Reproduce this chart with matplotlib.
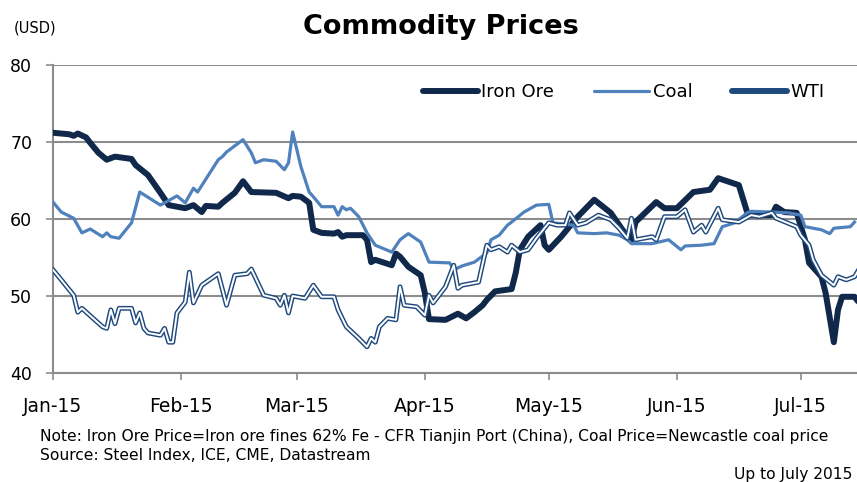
import numpy as np
import matplotlib
matplotlib.use("Agg")
import matplotlib.pyplot as plt
from matplotlib.lines import Line2D

# day offsets from 1 Jan 2015 and prices (USD)
ironDays = [0, 4, 5, 6, 8, 9, 11, 13, 15, 19, 20, 23, 26, 28, 32, 34, 36, 37, 40, 41,
            44, 46, 48, 54, 57, 58, 60, 62, 63, 65, 68, 69, 70, 71, 75, 76, 77, 78, 82, 83,
            84, 86, 89, 90, 91, 95, 98, 100, 102, 104, 105, 107, 111, 112, 113, 115, 118, 119, 120, 123,
            127, 131, 135, 139, 140, 141, 146, 148, 151, 155, 159, 161, 166, 168, 169, 174, 175, 177, 180, 182,
            183, 186, 187, 189, 190, 191, 194, 195]
ironOre = [71.2, 71.0, 70.8, 71.1, 70.6, 69.9, 68.6, 67.7, 68.1, 67.8, 67.0, 65.7, 63.4, 61.8, 61.4, 61.8, 60.9, 61.7, 61.6, 62.1,
           63.4, 64.9, 63.5, 63.4, 62.7, 63.0, 62.9, 62.1, 58.6, 58.2, 58.1, 58.3, 57.7, 57.9, 57.9, 57.3, 54.4, 54.7, 54.0, 55.5,
           55.1, 53.8, 52.7, 50.4, 47.0, 46.9, 47.7, 47.1, 47.9, 48.8, 49.5, 50.6, 50.9, 53.0, 56.0, 57.7, 59.2, 56.6, 56.0, 57.7,
           60.3, 62.5, 60.8, 57.7, 57.3, 59.6, 62.2, 61.4, 61.4, 63.5, 63.8, 65.3, 64.4, 60.9, 60.5, 60.5, 61.6, 60.9, 60.8, 57.3,
           54.3, 52.5, 50.4, 44.0, 48.2, 49.9, 49.9, 49.2]

coalDays = [0, 2, 5, 7, 9, 12, 13, 14, 16, 19, 21, 26, 30, 32, 34, 35, 40, 41, 42, 46,
            48, 49, 51, 54, 56, 57, 58, 60, 62, 63, 65, 68, 69, 70, 71, 72, 74, 76, 78, 82,
            84, 86, 89, 91, 96, 97, 99, 102, 105, 106, 108, 110, 111, 114, 117, 120, 121, 126, 127, 131,
            134, 137, 139, 140, 145, 149, 152, 153, 157, 160, 162, 165, 168, 169, 174, 178, 181, 182, 186, 188,
            189, 193, 194]
coal = [62.2, 60.9, 60.1, 58.2, 58.7, 57.7, 58.2, 57.7, 57.5, 59.5, 63.5, 61.8, 63.0, 62.1, 64.0, 63.5, 67.7, 68.1, 68.7, 70.3,
        68.6, 67.3, 67.7, 67.5, 66.4, 67.3, 71.3, 66.8, 63.5, 62.9, 61.6, 61.6, 60.5, 61.6, 61.2, 61.4, 60.3, 58.2, 56.6, 55.7,
        57.3, 58.1, 57.0, 54.4, 54.3, 53.4, 53.9, 54.4, 55.6, 57.3, 57.9, 59.2, 59.6, 60.9, 61.8, 61.9, 59.5, 59.2, 58.2, 58.1,
        58.2, 57.9, 57.3, 56.8, 56.8, 57.3, 56.0, 56.5, 56.6, 56.8, 59.0, 59.5, 60.8, 61.0, 60.9, 60.8, 60.5, 59.0, 58.6, 58.1,
        58.8, 59.0, 59.6]

wtiDays = [0, 2, 5, 6, 7, 12, 13, 14, 15, 16, 19, 20, 21, 22, 23, 26, 27, 28, 29, 30,
           32, 33, 34, 36, 40, 42, 44, 47, 48, 51, 54, 55, 56, 57, 58, 61, 63, 65, 68, 69,
           71, 74, 76, 77, 78, 79, 81, 83, 84, 85, 88, 90, 91, 92, 95, 97, 98, 99, 103, 105,
           106, 108, 110, 111, 113, 115, 117, 120, 122, 124, 125, 127, 129, 132, 135, 137, 139, 140, 141, 143,
           145, 146, 148, 151, 153, 155, 157, 158, 161, 162, 166, 169, 171, 174, 175, 180, 181, 183, 184, 186,
           189, 190, 192, 194, 195]
wti = [53.4, 52.1, 50.1, 47.9, 48.4, 46.0, 45.8, 48.2, 46.4, 48.4, 48.4, 46.5, 47.8, 45.8, 45.2, 44.9, 45.8, 44.0, 44.0, 47.8,
       49.2, 53.1, 49.1, 51.4, 52.9, 48.8, 52.7, 52.9, 53.5, 50.1, 49.7, 48.8, 50.1, 47.8, 50.0, 49.7, 51.4, 49.9, 49.9, 48.2,
       46.0, 44.5, 43.4, 44.5, 44.0, 46.0, 47.1, 46.9, 51.2, 48.8, 48.6, 47.5, 50.1, 49.1, 51.2, 54.0, 51.0, 51.4, 51.8, 56.6,
       56.0, 56.4, 55.7, 56.6, 55.7, 56.0, 57.5, 59.5, 59.2, 59.2, 60.8, 59.2, 59.5, 60.5, 59.9, 58.8, 57.5, 60.1, 57.3, 57.5,
       57.7, 57.3, 60.3, 60.3, 61.2, 58.3, 59.2, 58.3, 61.4, 59.9, 59.6, 60.5, 60.3, 60.8, 60.1, 59.0, 57.9, 56.6, 54.7, 52.7,
       51.4, 52.5, 52.1, 52.5, 53.4]

monthDays = [0, 31, 59, 90, 120, 151, 181]
monthLabels = ["Jan-15", "Feb-15", "Mar-15", "Apr-15", "May-15", "Jun-15", "Jul-15"]

ironColor = "#10284a"
coalColor = "#4f81bd"
wtiColor = "#1f497d"
gridColor = "#8c8c8c"

fig = plt.figure(figsize=(8.57, 4.82), dpi=100)
ax = fig.add_axes([53 / 857, 1 - 373 / 482, 804 / 857, 308 / 482])

ax.plot(ironDays, ironOre, color=ironColor, lw=4.3, solid_joinstyle="round", solid_capstyle="round", zorder=3)
ax.plot(coalDays, coal, color=coalColor, lw=2.3, solid_joinstyle="round", zorder=4)
# WTI drawn as a double line: blue outline with white core
ax.plot(wtiDays, wti, color=wtiColor, lw=3.5, solid_joinstyle="round", zorder=5)
ax.plot(wtiDays, wti, color="white", lw=1.4, solid_joinstyle="round", zorder=6)

ax.set_xlim(0, 194.6)
ax.set_ylim(40, 80)
ax.set_yticks([40, 50, 60, 70, 80])
ax.set_xticks(monthDays)
ax.set_xticklabels(monthLabels, fontsize=13.5)
ax.tick_params(axis="x", length=5, width=1.2, color=gridColor, pad=12)
ax.tick_params(axis="y", length=5, width=1.2, color=gridColor, pad=10, labelsize=12.5)
ax.yaxis.grid(True, color=gridColor, lw=1.5)
ax.set_axisbelow(True)
for side in ["top", "right"]:
    ax.spines[side].set_visible(False)
ax.spines["left"].set_color(gridColor)
ax.spines["left"].set_linewidth(1.5)
ax.spines["bottom"].set_color(gridColor)
ax.spines["bottom"].set_linewidth(1.5)

handles = [Line2D([], [], color=ironColor, lw=4.3, solid_capstyle="round"),
           Line2D([], [], color=coalColor, lw=2.3, solid_capstyle="round"),
           Line2D([], [], color=wtiColor, lw=4.3, solid_capstyle="round")]
ax.legend(handles, ["Iron Ore", "Coal", "WTI"], ncol=3, frameon=False, fontsize=13,
          loc="center", bbox_to_anchor=(0.71, 0.912), handlelength=3.05,
          handletextpad=0.2, columnspacing=2.2)

fig.text(441 / 857, 1 - 27 / 482, "Commodity Prices", ha="center", va="center",
         fontsize=19.5, fontweight="bold")
fig.text(35 / 857, 1 - 28 / 482, "(USD)", ha="center", va="center", fontsize=10.5)
fig.text(40 / 857, 1 - 437 / 482,
         "Note: Iron Ore Price=Iron ore fines 62% Fe - CFR Tianjin Port (China), Coal Price=Newcastle coal price",
         ha="left", va="center", fontsize=11.2)
fig.text(40 / 857, 1 - 455 / 482, "Source: Steel Index, ICE, CME, Datastream",
         ha="left", va="center", fontsize=11.2)
fig.text(852 / 857, 1 - 474 / 482, "Up to July 2015", ha="right", va="center", fontsize=11.2)

fig.savefig("out.png", dpi=100)
